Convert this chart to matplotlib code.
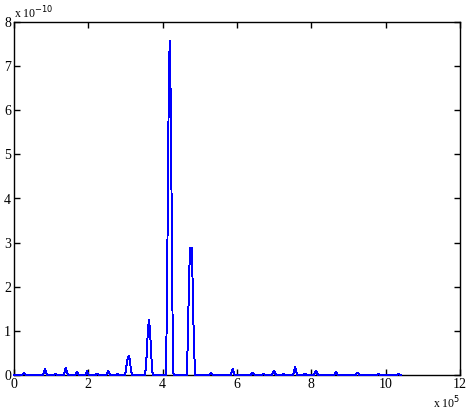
import matplotlib
matplotlib.use("Agg")
import matplotlib.pyplot as plt
import numpy as np

# Spectrum data: x in units of 1e5, y in units of 1e-10
dx = 0.027  # sample spacing of the spectrum (x 1e5)
peak_start = [0.22, 0.78, 1.08, 1.34, 1.64, 1.91, 2.20, 2.48, 2.76, 2.986,
              3.524, 4.089, 4.654, 5.25, 5.83, 6.14, 6.37, 6.67, 6.94, 7.22,
              7.51, 7.79, 8.07, 8.61, 9.19, 9.76, 10.30]
peak_values = [
    [0, 0.02, 0.04, 0.02, 0],
    [0, 0.06, 0.13, 0.07, 0],
    [0, 0.03, 0.03, 0],
    [0, 0.09, 0.17, 0.08, 0],
    [0, 0.03, 0.06, 0.03, 0],
    [0, 0.04, 0.08, 0.04, 0],
    [0, 0.03, 0.03, 0],
    [0, 0.05, 0.09, 0.05, 0],
    [0, 0.02, 0],
    [0, 0.11, 0.30, 0.41, 0.43, 0.30, 0.11, 0],
    [0, 0.19, 0.59, 1.06, 1.25, 1.00, 0.60, 0.12, 0],
    [0, 1.72, 4.35, 7.08, 7.57, 5.55, 2.91, 0.05, 0],
    [0, 1.02, 2.06, 2.89, 2.80, 2.89, 1.56, 0.72, 0],
    [0, 0.02, 0.04, 0.02, 0],
    [0, 0.07, 0.14, 0.07, 0],
    [0, 0.01, 0],
    [0, 0.03, 0.05, 0.03, 0],
    [0, 0.02, 0.02, 0],
    [0, 0.05, 0.09, 0.05, 0],
    [0, 0.03, 0],
    [0, 0.10, 0.19, 0.09, 0],
    [0, 0.02, 0.02, 0],
    [0, 0.05, 0.10, 0.05, 0],
    [0, 0.03, 0.06, 0.03, 0],
    [0, 0.03, 0.05, 0.03, 0],
    [0, 0.02, 0.02, 0],
    [0, 0.02, 0.02, 0],
]
x_begin, x_end = 0.0, 10.4
xticks = [0, 2, 4, 6, 8, 10, 12]
yticks = [0, 1, 2, 3, 4, 5, 6, 7, 8]

# assemble the series
xs, ys = [x_begin], [0.0]
for s, vals in zip(peak_start, peak_values):
    for i, v in enumerate(vals):
        xs.append(s + i * dx)
        ys.append(v)
xs.append(x_end)
ys.append(0.0)

plt.rcParams['font.family'] = ['Liberation Serif', 'DejaVu Serif']

fig = plt.figure(figsize=(4.71, 4.11), dpi=100)
ax = fig.add_axes([14/471, 1-375/411, 446/471, 353/411])
ax.plot(xs, ys, color='#0000ff', lw=0.7, antialiased=False, clip_on=False, zorder=3)
ax.set_xlim(0, 12)
ax.set_ylim(0, 8)
ax.set_xticks(xticks)
ax.set_yticks(yticks)
ax.set_xticklabels([str(t) for t in xticks])
ax.set_yticklabels([str(t) for t in yticks])
ax.tick_params(direction='in', top=True, right=True, length=4, width=1,
               labelsize=10, pad=2)
for sp in ax.spines.values():
    sp.set_linewidth(1)
ax.text(0.0, 1.003, r'x 10$^{-10}$', transform=ax.transAxes, fontsize=8.5,
        ha='left', va='bottom')
ax.text(1.0, -0.08, r'x 10$^{5}$', transform=ax.transAxes, fontsize=8.5,
        ha='right', va='center')
fig.savefig('out.png', dpi=100)
